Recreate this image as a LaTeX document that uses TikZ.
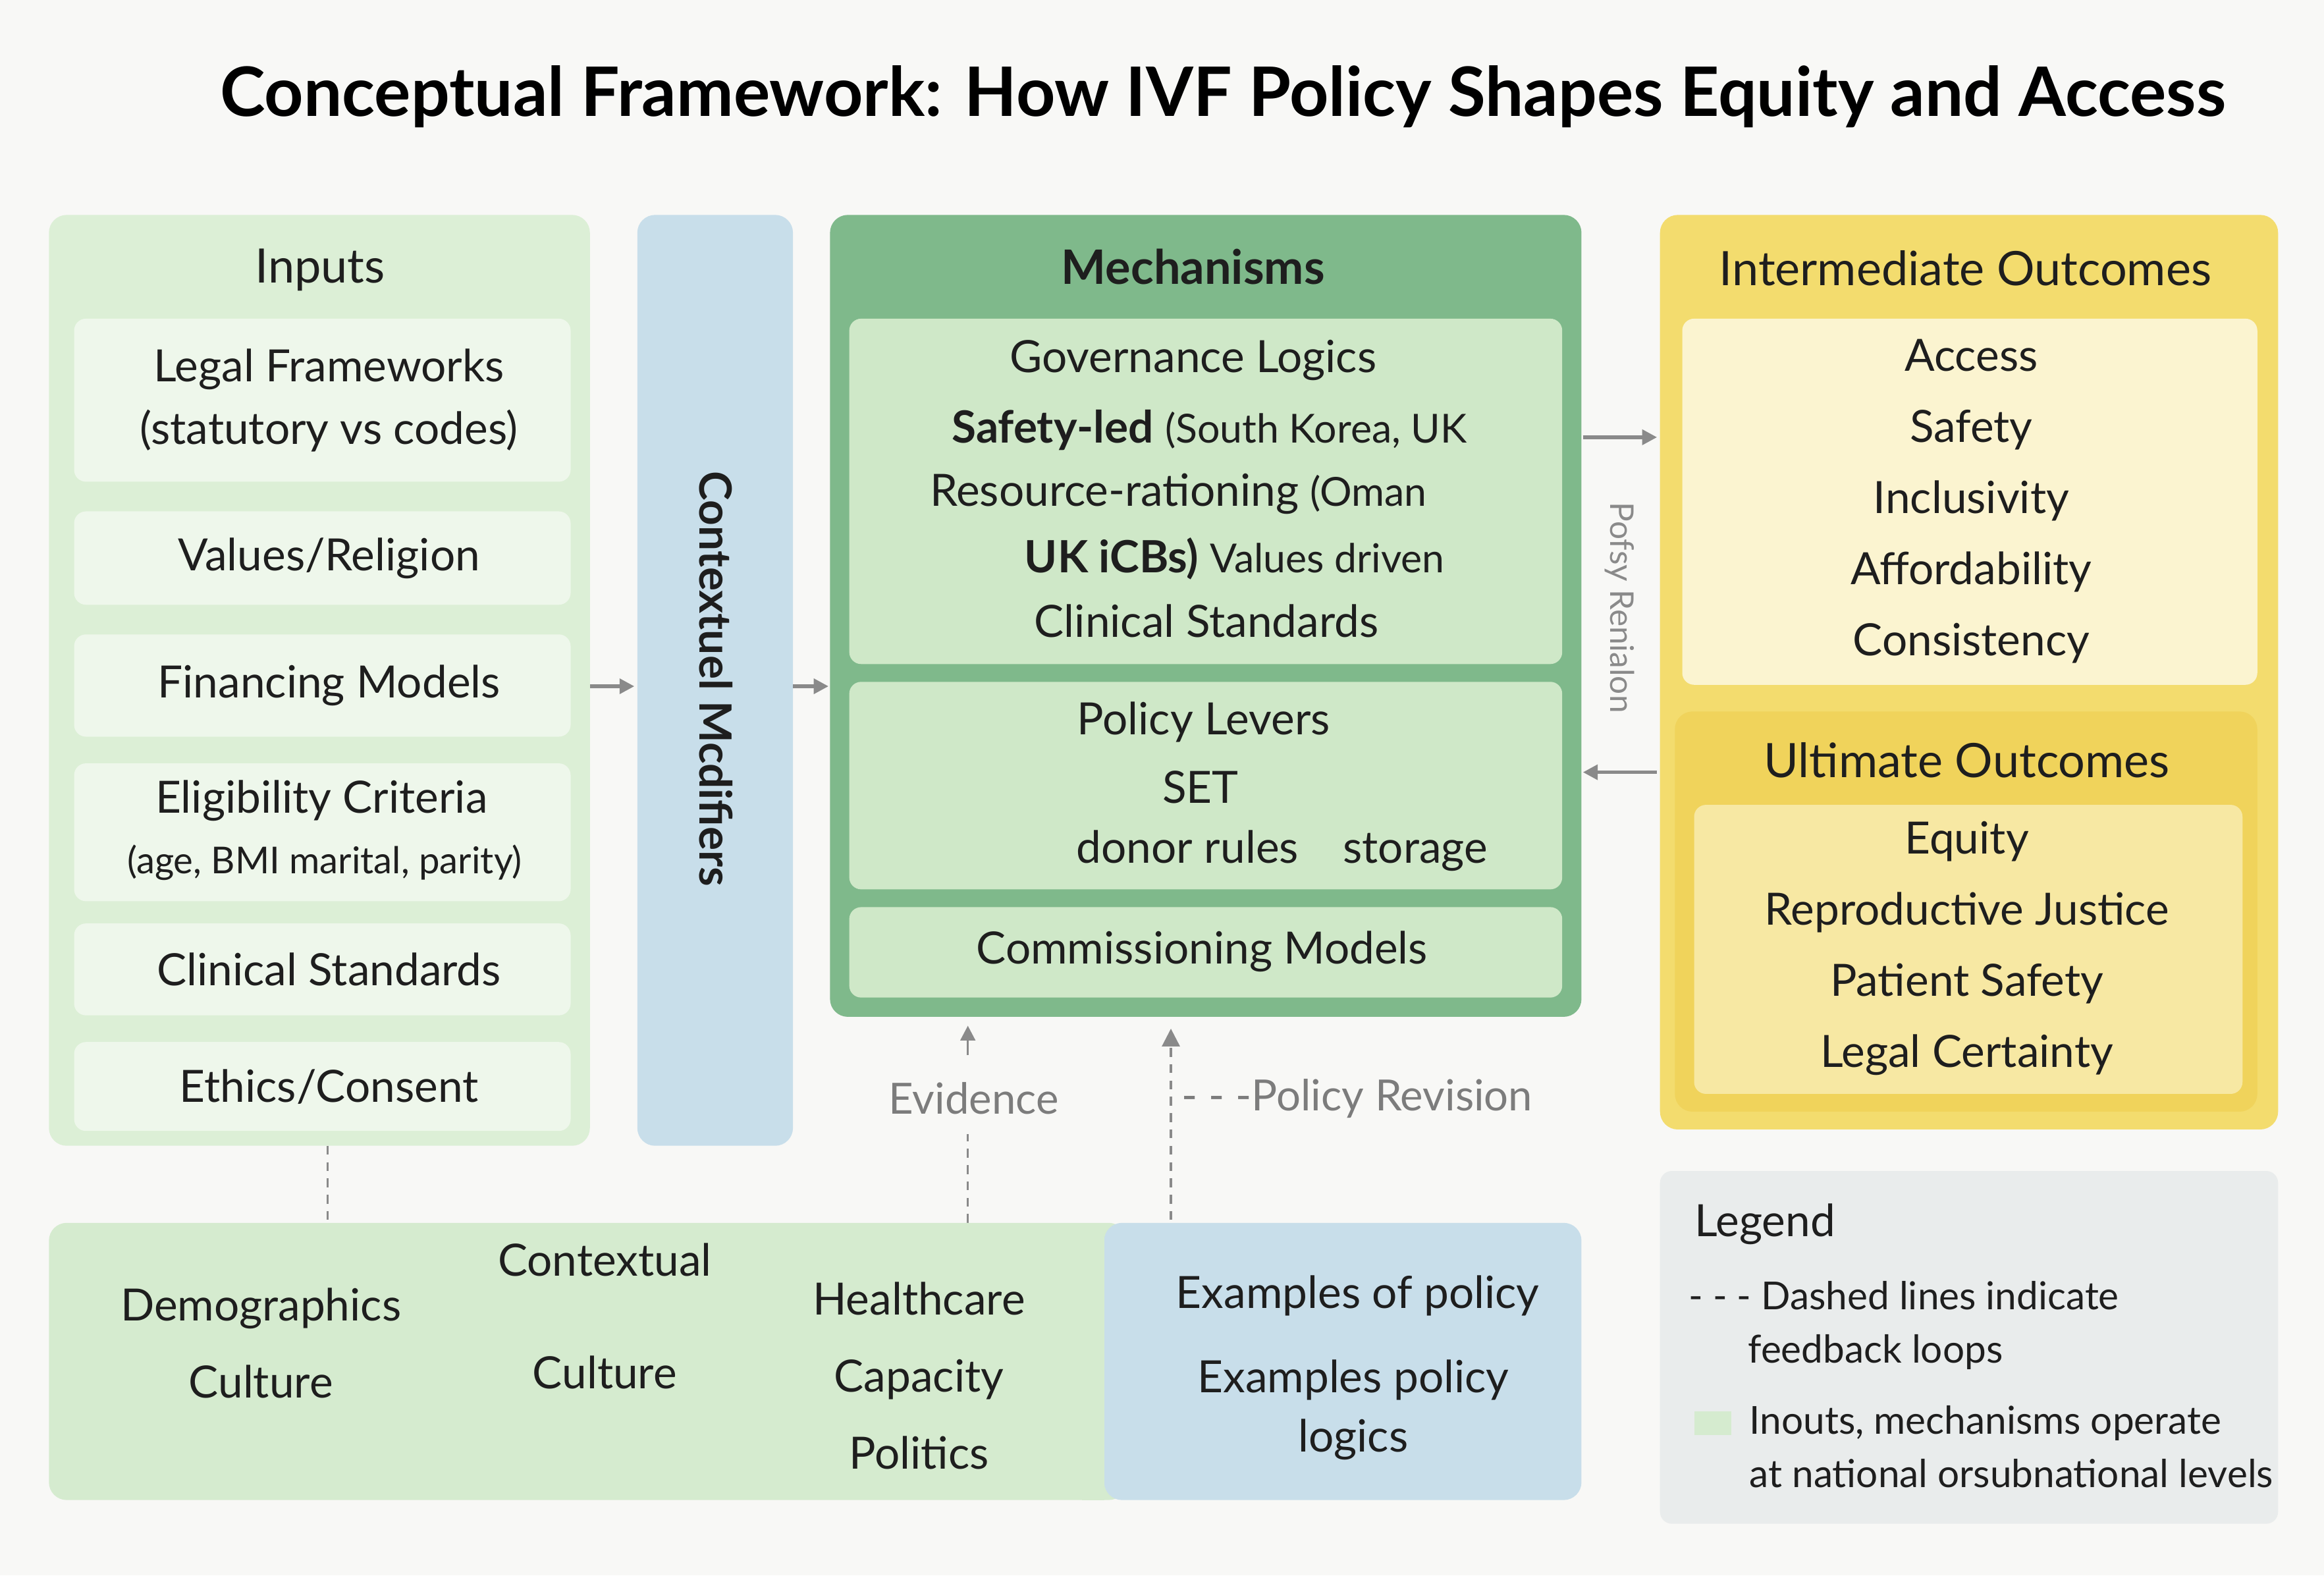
\documentclass[tikz,border=0pt]{standalone}
\usepackage{fontspec}
\setmainfont{Lato}
\usetikzlibrary{arrows.meta}
\definecolor{bg}{HTML}{F8F8F6}
\definecolor{inpanel}{HTML}{DCEFD6}
\definecolor{inbox}{HTML}{EEF7EB}
\definecolor{ctx}{HTML}{C8DEEA}
\definecolor{mech}{HTML}{7FB98B}
\definecolor{mechbox}{HTML}{CFE8C8}
\definecolor{yel}{HTML}{F3DC6E}
\definecolor{yelbox}{HTML}{FBF4D0}
\definecolor{ult}{HTML}{F0D35B}
\definecolor{ultbox}{HTML}{F7E8A3}
\definecolor{bot}{HTML}{D5EBCF}
\definecolor{leg}{HTML}{E9ECEC}
\definecolor{txt}{HTML}{1E1E1E}
\definecolor{gr}{HTML}{8A8A8A}
\tikzset{
  panel/.style={draw=none,rounded corners=6pt},
  tx/.style={text=txt,font=\fontsize{15}{18}\selectfont,align=center,inner sep=0},
  hd/.style={text=txt,font=\fontsize{16}{19}\selectfont,align=center,inner sep=0},
  arr/.style={draw=gr,line width=1.2pt,-{Triangle[length=5pt,width=5pt]}},
  dsh/.style={draw=gr,line width=0.7pt,dash pattern=on 3pt off 2.5pt},
}
\begin{document}
\begin{tikzpicture}[x=0.5pt,y=-0.5pt]
\useasboundingbox (0,0) rectangle (1568,1063);
\fill[bg] (0,0) rectangle (1568,1063);
\node[text=black,font=\bfseries\fontsize{23}{27}\selectfont] (title) at (825,65) {Conceptual Framework: How IVF Policy Shapes Equity and Access};
% Inputs
\fill[panel,inpanel] (33,145) rectangle (398,773);
\node[hd] (inh) at (216,182) {Inputs};
\foreach \n/\a/\b/\t in {i1/215/325/{Legal Frameworks\\[3pt](statutory vs codes)},i2/345/408/{Values/Religion},i3/428/497/{Financing Models},i5/623/685/{Clinical Standards},i6/703/763/{Ethics/Consent}}{
  \fill[panel,inbox,rounded corners=4pt] (50,\a) rectangle (385,\b);
  \node[tx] (\n) at (222,{(\a+\b)/2}) {\t};
}
\fill[panel,inbox,rounded corners=4pt] (50,515) rectangle (385,608);
\node[tx] (i4) at (217,540) {Eligibility Criteria};
\node[tx,font=\fontsize{12.5}{15}\selectfont] (i4b) at (219,582) {(age, BMI marital, parity)};
% context bar
\fill[panel,ctx] (430,145) rectangle (535,773);
\node[tx,font=\bfseries\fontsize{15}{18}\selectfont,rotate=-90] (ctxt) at (483,458) {Contextuel Mcdifiers};
\coordinate (a1s) at (398,463); \coordinate (a1e) at (428,463);
\draw[arr] (a1s) -- (a1e);
\coordinate (a2s) at (535,463); \coordinate (a2e) at (559,463);
\draw[arr] (a2s) -- (a2e);
% Mechanisms
\fill[panel,mech] (560,145) rectangle (1067,686);
\node[hd,font=\bfseries\fontsize{16}{19}\selectfont] (mh) at (805,180) {Mechanisms};
\fill[panel,mechbox,rounded corners=4pt] (573,215) rectangle (1054,448);
\node[tx] (g1) at (805,243) {Governance Logics};
\node[tx] (g2) at (816,290) {\textbf{Safety-led} {\fontsize{13.5}{16}\selectfont(South Korea, UK}};
\node[tx] (g3) at (795,333) {Resource-rationing {\fontsize{13.5}{16}\selectfont(Oman}};
\node[tx] (g4) at (833,377) {\textbf{UK iCBs)} {\fontsize{13.5}{16}\selectfont Values driven}};
\node[tx] (g5) at (814,419) {Clinical Standards};
\fill[panel,mechbox,rounded corners=4pt] (573,460) rectangle (1054,600);
\node[tx] (p1) at (812,487) {Policy Levers};
\node[tx] (p2) at (810,531) {SET};
\node[tx] (p3) at (865,574) {donor rules\quad storage};
\fill[panel,mechbox,rounded corners=4pt] (573,612) rectangle (1054,673);
\node[tx] (cm) at (811,642) {Commissioning Models};
% arrows to outcomes
\coordinate (r1s) at (1068,295); \coordinate (r1e) at (1118,295);
\draw[arr] (r1s) -- (r1e);
\coordinate (r2s) at (1118,521); \coordinate (r2e) at (1068,521);
\draw[arr] (r2s) -- (r2e);
\node[tx,text=gr,font=\fontsize{11}{13}\selectfont,rotate=-90] (pr) at (1093,410) {Pofsy Renialon};
% Outcomes
\fill[panel,yel] (1120,145) rectangle (1537,762);
\node[hd] (ih) at (1326,181) {Intermediate Outcomes};
\fill[panel,yelbox,rounded corners=4pt] (1135,215) rectangle (1523,462);
\node[tx,align=center] (io) at (1330,338) {Access\\[6pt]Safety\\[6pt]Inclusivity\\[6pt]Affordability\\[6pt]Consistency};
\fill[panel,ult] (1130,480) rectangle (1523,750);
\node[hd] (uh) at (1327,513) {Ultimate Outcomes};
\fill[panel,ultbox,rounded corners=4pt] (1143,543) rectangle (1513,738);
\node[tx] (uo) at (1327,640) {Equity\\[6pt]Reproductive Justice\\[6pt]Patient Safety\\[6pt]Legal Certainty};
% feedback
\node[tx,text=gr!90!black,font=\fontsize{14.5}{17}\selectfont] (ev) at (657,741) {Evidence};
\coordinate (e1) at (653,825); \coordinate (e2) at (653,765);
\draw[dsh] (e1) -- (e2);
\coordinate (e3) at (653,712); \coordinate (e4) at (653,692);
\draw[arr,line width=0.8pt] (e3) -- (e4);
\coordinate (pv1) at (790,823); \coordinate (pv2) at (790,694);
\draw[dsh,-{Triangle[length=6pt,width=6pt]}] (pv1) -- (pv2);
\node[tx,text=gr!90!black,font=\fontsize{14.5}{17}\selectfont,anchor=west] (pvt) at (797,741) {- - -Policy Revision};
\coordinate (d1) at (221,773); \coordinate (d2) at (221,825);
\draw[dsh] (d1) -- (d2);
% bottom panel
\fill[bot,rounded corners=6pt] (33,825) rectangle (760,1012);
\fill[ctx,rounded corners=6pt] (745,825) rectangle (1067,1012);
\fill[bot] (730,825) rectangle (745,1012);
\node[tx] (b1) at (176,906) {Demographics\\[8pt]Culture};
\node[tx] (b2) at (408,888) {Contextual\\[20pt]Culture};
\node[tx] (b3) at (620,928) {Healthcare\\[8pt]Capacity\\[8pt]Politics};
\node[tx] (b4) at (916,874) {Examples of policy};
\node[tx] (b5) at (913,951) {Examples policy\\[2pt]logics};
% legend
\fill[leg,rounded corners=4pt] (1120,790) rectangle (1537,1028);
\node[tx,anchor=west] (lh) at (1143,826) {Legend};
\node[tx,anchor=west,align=left,font=\fontsize{13}{15}\selectfont] (l1) at (1139,894) {- - - Dashed lines indicate\\[3pt]\hspace*{20pt}feedback loops};
\fill[bot] (1143,952) rectangle (1168,968);
\node[tx,anchor=west,align=left,font=\fontsize{13}{15}\selectfont] (l2) at (1180,976) {Inouts, mechanisms operate\\[3pt]at national orsubnational levels};
\end{tikzpicture}
\end{document}
